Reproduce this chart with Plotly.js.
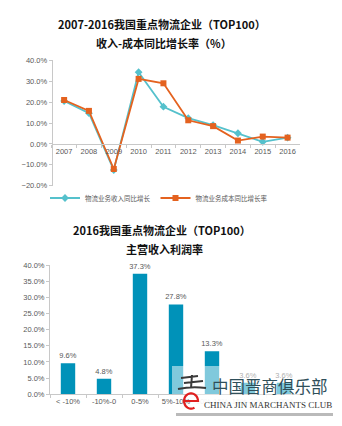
<!DOCTYPE html>
<html><head><meta charset="utf-8">
<script src="https://cdn.plot.ly/plotly-3.0.1.min.js"></script>
<style>html,body{margin:0;padding:0;background:#fff;}#chart{width:342px;height:426px;}</style>
</head><body><div id="chart"></div>
<script>
const years = ['2007','2008','2009','2010','2011','2012','2013','2014','2015','2016'];
const incomeGrowth = [20.5, 14.7, -12.5, 34.3, 17.8, 12.3, 9.0, 5.1, 1.0, 3.0];
const costGrowth = [21.0, 15.8, -12.0, 31.1, 29.0, 11.3, 8.5, 1.6, 3.5, 3.0];
const incomeName = '物流业务收入同比增长';
const costName = '物流业务成本同比增长率';
const marginCats = ['< -10%', '-10%-0', '0-5%', '5%-10%', '10%-15%', '15%-20%', '>20%'];
const marginShare = [9.6, 4.8, 37.3, 27.8, 13.3, 3.6, 3.6];

const W = 342, H = 426;
const py = p => 1 - p / H;
const px = p => p / W;
const tickFont = {family: 'Arial, "Liberation Sans", "Noto Sans CJK SC", sans-serif', size: 7.5, color: '#595959'};
const titleFont = {family: '"Noto Sans CJK SC", sans-serif', size: 11, color: '#111'};

const traces = [
  {x: years, y: incomeGrowth, name: incomeName, type: 'scatter', mode: 'lines+markers',
   line: {color: '#55c1cc', width: 1.8}, marker: {symbol: 'diamond', size: 6, color: '#55c1cc'},
   xaxis: 'x', yaxis: 'y', cliponaxis: false},
  {x: years, y: costGrowth, name: costName, type: 'scatter', mode: 'lines+markers',
   line: {color: '#e4621f', width: 1.8}, marker: {symbol: 'square', size: 6, color: '#e4621f'},
   xaxis: 'x', yaxis: 'y', cliponaxis: false},
  {x: marginCats, y: marginShare, type: 'bar', showlegend: false,
   marker: {color: '#0092b9'}, text: marginShare.map(v => v.toFixed(1) + '%'),
   textposition: 'outside', constraintext: 'none',
   textfont: {family: tickFont.family, size: 7.5, color: '#595959'},
   cliponaxis: false, xaxis: 'x2', yaxis: 'y2', hoverinfo: 'skip'}
];

// red "e" logo drawn as a path (not text)
function ePath(cx, cy, r) {
  let d = `M ${px(cx - r)} ${py(cy)} L ${px(cx + r)} ${py(cy)} `;
  for (let a = 0; a >= -300; a -= 12) {
    const t = a * Math.PI / 180;
    d += `L ${px(cx + r * Math.cos(t))} ${py(cy + r * 1.1 * Math.sin(t))} `;
  }
  return d;
}

const ann = (text, x, y, font) => ({text, xref: 'paper', yref: 'paper', x: px(x), y: py(y),
  xanchor: 'center', yanchor: 'middle', showarrow: false, font});

const layout = {
  width: W, height: H, margin: {l: 0, r: 0, t: 0, b: 0},
  paper_bgcolor: '#fff', plot_bgcolor: 'rgba(0,0,0,0)', showlegend: true,
  font: tickFont,
  xaxis: {domain: [px(51.7), px(300)], anchor: 'free', position: py(144), type: 'category',
    range: [-0.5, 9.5], showline: true, linecolor: '#c8c8c8', linewidth: 1, showgrid: false,
    zeroline: false, ticks: 'outside', tickson: 'boundaries', ticklen: 3, tickcolor: '#c8c8c8',
    tickfont: tickFont, tickangle: 0, automargin: false},
  yaxis: {domain: [py(185.7), py(60.3)], range: [-20, 40], dtick: 10, tickformat: '.1f', ticksuffix: '%',
    showline: true, linecolor: '#c8c8c8', showgrid: false, zeroline: false, ticks: 'outside',
    ticklen: 3, tickcolor: '#c8c8c8', tickfont: tickFont, anchor: 'free', position: px(51.7)},
  xaxis2: {domain: [px(50), px(302)], anchor: 'y2', type: 'category', range: [-0.5, 6.5],
    showline: true, linecolor: '#c8c8c8', showgrid: false, zeroline: false, ticks: 'outside',
    tickson: 'boundaries', ticklen: 3, tickcolor: '#c8c8c8', tickfont: tickFont, tickangle: 0},
  yaxis2: {domain: [py(394.3), py(265)], range: [0, 40], dtick: 5, tickformat: '.1f', ticksuffix: '%',
    showline: true, linecolor: '#c8c8c8', showgrid: false, zeroline: false, ticks: 'outside',
    ticklen: 3, tickcolor: '#c8c8c8', tickfont: tickFont, anchor: 'x2'},
  bargap: 0.6,
  legend: {orientation: 'h', x: px(45), xanchor: 'left', y: py(198), yanchor: 'middle',
    font: {family: '"Noto Sans CJK SC", sans-serif', size: 6.5, color: '#595959'},
    itemwidth: 30, tracegroupgap: 0, bgcolor: 'rgba(0,0,0,0)'},
  shapes: [
    {type: 'rect', xref: 'paper', yref: 'paper', x0: px(172), x1: px(332), y0: py(394), y1: py(366),
     fillcolor: 'rgba(255,255,255,0.5)', line: {width: 0}, layer: 'above'},
    {type: 'rect', xref: 'paper', yref: 'paper', x0: px(176), x1: px(333), y0: py(416), y1: py(413),
     fillcolor: 'rgba(140,140,140,0.6)', line: {width: 0}, layer: 'above'},
    {type: 'rect', xref: 'paper', yref: 'paper', x0: px(192), x1: px(332), y0: py(413), y1: py(394.5),
     fillcolor: 'rgba(255,255,255,0.92)', line: {width: 0}, layer: 'above'},
    {type: 'path', xref: 'paper', yref: 'paper', layer: 'above',
     path: `M ${px(181)} ${py(378)} L ${px(198)} ${py(376)} M ${px(184)} ${py(383)} L ${px(203)} ${py(381)} M ${px(178)} ${py(389)} Q ${px(192)} ${py(386)} ${px(206)} ${py(388)} M ${px(192)} ${py(375)} L ${px(191)} ${py(388)}`,
     line: {color: '#3a3a3a', width: 2}},
    {type: 'path', xref: 'paper', yref: 'paper', layer: 'above', path: ePath(191, 401, 7),
     line: {color: '#e02020', width: 2.2}}
  ],
  annotations: [
    ann('<b>2007-2016我国重点物流企业（TOP100）</b>', 162, 24, titleFont),
    ann('<b>收入-成本同比增长率（%）</b>', 164, 43, titleFont),
    ann('<b>2016我国重点物流企业（TOP100）</b>', 162, 230, titleFont),
    ann('<b>主营收入利润率</b>', 164, 249, titleFont),
    ann('中国晋商俱乐部', 270, 386, {family: '"Noto Sans CJK SC", serif', size: 16.5, color: '#2f4f5a'}),
    ann('CHINA JIN MARCHANTS CLUB', 268, 404.5, {family: '"Liberation Serif", serif', size: 9, color: '#333'})
  ]
};

Plotly.newPlot('chart', traces, layout, {displayModeBar: false, staticPlot: true});
</script></body></html>
